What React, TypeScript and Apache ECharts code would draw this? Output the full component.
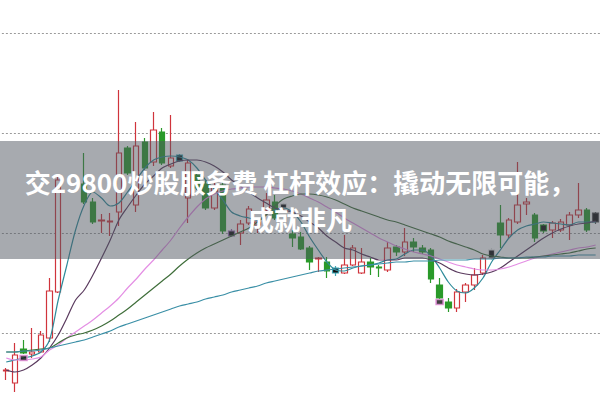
import React, { useEffect, useRef } from "react";
import * as echarts from "echarts";

// price unit: arbitrary; gridlines every 100
// [open, close, low, high]
const candles: (number[] | null)[] = [
  [62, 63, 53, 65], [50, 78, 41, 90], [84, 80, 79, 93], [79, 81, 75, 105], [81, 98, 80, 102],
  [95, 142, 91, 155], [141, 253, 140, 256], null, null, [249, 231, 229, 280],
  [231, 211, 209, 235], [212, 213, 200, 219], [211, 212, 197, 220], [221, 280, 207, 343], [285, 260, 258, 287],
  [228, 287, 221, 311], [291, 265, 263, 295], [271, 303, 267, 321], [301, 270, 268, 305], [267, 275, 265, 318],
  [278, 272, 271, 279], [235, 270, 210, 273], [258, 245, 243, 261], [249, 225, 223, 253], [225, 247, 223, 253],
  [248, 202, 199, 253], [202, 197, 196, 204], [200, 209, 188, 213], [210, 224, 208, 227], [208, 211, 200, 215],
  [223, 233, 220, 240], [231, 215, 213, 238], [229, 225, 224, 230], [199, 195, 186, 203], [196, 184, 183, 201],
  [185, 171, 163, 187], [174, 175, 161, 176], [171, 162, 155, 176], [165, 160, 157, 167], [160, 168, 159, 198],
  [168, 185, 167, 188], [160, 171, 159, 185], [171, 166, 158, 175], [166, 165, 156, 168], [163, 185, 161, 191],
  [186, 181, 177, 188], [181, 191, 177, 205], [191, 186, 181, 195], [185, 181, 179, 188], [183, 154, 150, 185],
  [148, 135, 134, 155], [131, 125, 121, 135], [125, 141, 121, 144], [141, 148, 131, 150], [148, 158, 143, 165],
  [160, 175, 158, 178], [183, 175, 173, 185], [210, 198, 185, 228], [198, 213, 195, 215], [211, 228, 209, 271],
  [229, 231, 218, 235], [218, 195, 191, 220], [208, 202, 200, 209], [203, 210, 195, 212], [203, 211, 201, 214],
  [208, 218, 193, 221], [218, 223, 215, 250], [223, 203, 201, 225], [220, 211, 209, 221],
];

// special dark "box" candles: [index, border colour]
const boxCandles: [number, string][] = [
  [20, "#3fa7b5"], [26, "#9b6fb0"], [32, "#dddddd"], [38, "#3fa7b5"],
  [56, "#dddddd"], [62, "#2a9a2a"], [68, "#555555"],
];

// small pink/black markers: [index, value]
const markers: [number, number][] = [[2, 75], [50, 131]];

const ma5 = [71, 73, 75, 77, 81, 93, 133, 168, 203, 228, 241, 235, 227, 230, 241, 253, 265, 273, 276, 277, 276, 273, 265, 253, 244, 233, 221, 217, 215, 213, 219, 223, 225, 221, 211, 196, 183, 171, 163, 162, 165, 167, 168, 170, 173, 174, 179, 183, 183, 177, 165, 151, 142, 140, 145, 155, 171, 183, 195, 203, 207, 209, 211, 210, 209, 208, 211, 211, 211];
const ma10 = [63, 61, 63, 68, 75, 85, 98, 115, 133, 143, 158, 175, 193, 213, 226, 238, 249, 257, 265, 269, 272, 273, 273, 271, 267, 261, 253, 247, 241, 235, 230, 225, 223, 221, 217, 211, 205, 197, 191, 185, 183, 179, 176, 173, 173, 173, 175, 175, 175, 173, 170, 165, 161, 159, 158, 159, 161, 165, 171, 177, 183, 189, 195, 200, 204, 207, 209, 210, 212];
const ma20 = [75, 73, 73, 74, 76, 83, 88, 95, 101, 107, 113, 120, 127, 135, 145, 154, 164, 173, 183, 193, 205, 216, 226, 234, 239, 242, 244, 245, 246, 246, 246, 245, 244, 242, 239, 235, 231, 226, 221, 215, 210, 205, 200, 195, 191, 187, 184, 181, 179, 177, 174, 171, 168, 166, 164, 163, 163, 164, 166, 169, 172, 175, 177, 179, 181, 183, 185, 186, 188];
const ma30 = [81, 81, 82, 83, 84, 85, 90, 95, 98, 100, 103, 107, 112, 118, 124, 131, 138, 145, 152, 159, 167, 174, 180, 185, 189, 193, 197, 201, 205, 211, 218, 227, 234, 237, 239, 239, 238, 236, 233, 229, 225, 222, 219, 216, 213, 211, 208, 205, 202, 199, 196, 192, 189, 186, 183, 179, 177, 176, 175, 175, 175, 176, 177, 178, 179, 180, 182, 184, 185];
const ma60 = [81, 81, 82, 82, 83, 85, 87, 89, 91, 93, 96, 99, 102, 106, 109, 112, 115, 118, 121, 124, 127, 129, 131, 134, 136, 138, 141, 143, 145, 147, 150, 152, 154, 156, 158, 160, 162, 163, 164, 165, 166, 167, 168, 169, 170, 171, 171, 172, 172, 172, 173, 173, 173, 173, 174, 174, 174, 175, 175, 175, 176, 176, 176, 177, 177, 177, 178, 178, 178];

const categories = candles.map((_, i) => `D${i + 1}`);

const yTicks = { min: 100, max: 400, interval: 100 };

const title = "交29800炒股服务费 杠杆效应：撬动无限可能，\n成就非凡";

export default function App() {
  const ref = useRef<HTMLDivElement>(null);
  useEffect(() => {
    if (!ref.current) return;
    const chart = echarts.init(ref.current, null, { renderer: "svg" });
    const boxMap = new Map(boxCandles);
    const kData = candles.map((c, i) => {
      if (!c) return ["-", "-", "-", "-"];
      const bc = boxMap.get(i);
      if (bc) {
        return {
          value: c,
          itemStyle: { color: "#111", color0: "#111", borderColor: bc, borderColor0: bc },
        };
      }
      return c;
    });
    const line = (name: string, data: number[], color: string) => ({
      name,
      type: "line",
      data,
      symbol: "none",
      clip: false,
      smooth: 0.3,
      z: 3,
      lineStyle: { color, width: 1.2 },
    });
    chart.setOption({
      animation: false,
      backgroundColor: "#fff",
      grid: { left: 1.875, right: -5.625, top: 33, bottom: 67 },
      xAxis: {
        type: "category",
        data: categories,
        boundaryGap: true,
        axisLine: { show: false },
        axisTick: { show: false },
        axisLabel: { show: false },
        splitLine: { show: false },
      },
      yAxis: {
        type: "value",
        min: yTicks.min,
        max: yTicks.max,
        interval: yTicks.interval,
        axisLine: { show: false },
        axisTick: { show: false },
        axisLabel: { show: false },
        splitLine: { show: true, lineStyle: { color: "#9a9a9a", type: [2, 2], width: 1 } },
      },
      series: [
        {
          type: "candlestick",
          data: kData,
          barWidth: 6,
          clip: false,
          z: 2,
          itemStyle: {
            color: "#ffffff",
            color0: "#2a9a2a",
            borderColor: "#d0343c",
            borderColor0: "#2a9a2a",
            borderWidth: 1.2,
          },
        },
        line("MA5", ma5, "#2e8b9a"),
        line("MA10", ma10, "#5a3a5e"),
        line("MA20", ma20, "#e48fe4"),
        line("MA30", ma30, "#3f6e3a"),
        line("MA60", ma60, "#3a8fa6"),
        {
          type: "scatter",
          data: markers,
          symbol: "rect",
          symbolSize: [7, 5],
          clip: false,
          z: 4,
          itemStyle: { color: "#111", borderColor: "#e38fd8", borderWidth: 1.5 },
        },
      ],
      graphic: [
        {
          type: "rect",
          left: 0,
          top: 141,
          shape: { width: 600, height: 118 },
          style: { fill: "rgba(80,86,96,0.5)" },
          z: 100,
        },
        {
          type: "text",
          x: 300,
          y: 200,
          z: 101,
          style: {
            text: title,
            fill: "#ffffff",
            font: 'bold 26px "Noto Sans CJK SC"',
            lineHeight: 37,
            textAlign: "center",
            textVerticalAlign: "middle",
          },
        },
      ],
    });
    return () => chart.dispose();
  }, []);
  return (
    <div
      ref={ref}
      style={{ position: "fixed", left: 0, top: 0, width: 600, height: 400 }}
    />
  );
}
